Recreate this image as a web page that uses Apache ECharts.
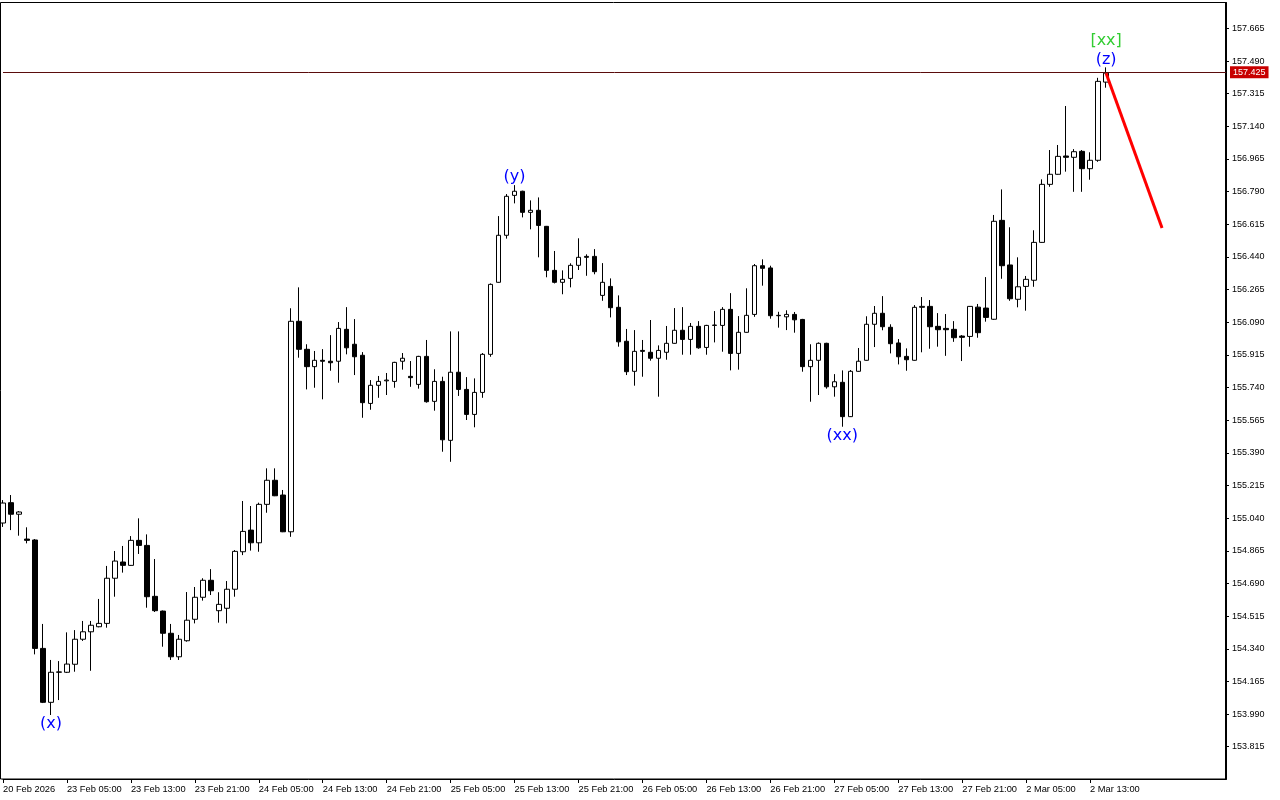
<!DOCTYPE html>
<html>
<head>
<meta charset="utf-8">
<script src="https://cdn.jsdelivr.net/npm/echarts@6/dist/echarts.min.js"></script>
<style>
html,body{margin:0;padding:0;background:#fff;}
#chart{width:1280px;height:800px;}
</style>
</head>
<body>
<div id="chart"></div>
<script>
// ---- Data (H1 candles, 20 Feb 2026 21:00 .. 2 Mar 2026 15:00) ----
const opens = [155.014,155.123,155.061,154.928,154.923,154.342,154.053,154.214,154.214,154.257,
154.391,154.431,154.458,154.476,154.718,154.805,154.787,154.921,154.894,154.621,
154.542,154.423,154.297,154.383,154.498,154.616,154.707,154.544,154.557,154.659,
154.860,154.976,154.908,155.114,155.243,155.164,154.967,156.095,155.945,155.852,
155.886,155.881,155.881,156.052,155.972,155.913,155.655,155.752,155.776,155.773,
155.881,155.800,155.757,155.907,155.666,155.773,155.457,155.822,155.730,155.596,
155.714,155.918,156.304,156.556,156.770,156.792,156.679,156.690,156.604,156.368,
156.304,156.325,156.395,156.443,156.443,156.234,156.282,156.170,155.988,155.827,
155.939,155.929,155.897,155.929,155.977,156.047,155.998,156.068,155.955,156.073,
156.073,156.159,155.923,156.036,156.132,156.393,156.381,156.125,156.119,156.132,
156.105,155.852,155.886,155.977,155.744,155.768,155.584,155.827,155.886,156.079,
156.138,156.063,155.979,155.907,155.886,156.170,156.175,156.068,156.057,156.052,
156.016,156.014,156.171,156.166,156.106,156.636,156.397,156.213,156.282,156.315,
156.518,156.829,156.883,156.981,156.974,157.006,156.913,156.958,157.377];
const highs = [155.137,155.164,155.078,154.991,154.928,154.473,154.280,154.274,154.428,154.440,
154.489,154.489,154.607,154.784,154.864,154.891,154.944,155.039,154.953,154.821,
154.545,154.473,154.414,154.644,154.671,154.718,154.767,154.643,154.703,154.869,
155.132,155.105,155.123,155.307,155.307,155.191,156.165,156.277,155.972,155.936,
155.946,156.021,156.091,156.171,156.107,155.930,155.780,155.802,155.818,155.878,
155.925,155.882,155.910,155.995,155.838,155.798,156.041,156.041,155.796,155.789,
155.925,156.298,156.659,156.777,156.825,156.795,156.743,156.759,156.606,156.472,
156.368,156.406,156.540,156.454,156.482,156.407,156.325,156.234,156.054,156.048,
155.995,156.102,155.966,156.070,156.166,156.171,156.086,156.096,156.076,156.150,
156.171,156.246,156.123,156.272,156.402,156.427,156.393,156.146,156.154,156.145,
156.108,155.972,155.982,155.980,155.812,155.832,155.834,155.952,156.122,156.177,
156.230,156.079,156.000,155.950,156.182,156.225,156.209,156.139,156.134,156.096,
156.021,156.177,156.188,156.332,156.665,156.802,156.599,156.438,156.338,156.583,
156.856,157.013,157.040,157.249,157.018,157.013,157.001,157.400,157.456];
const lows = [154.993,154.976,154.946,154.905,154.310,154.049,153.985,154.065,154.210,154.217,
154.382,154.222,154.455,154.453,154.619,154.748,154.785,154.848,154.560,154.537,
154.351,154.280,154.280,154.378,154.476,154.598,154.628,154.480,154.476,154.619,
154.842,154.866,154.860,155.069,155.158,154.965,154.940,155.900,155.730,155.739,
155.677,155.830,155.766,155.918,155.807,155.578,155.621,155.685,155.700,155.739,
155.836,155.744,155.734,155.659,155.616,155.396,155.342,155.695,155.566,155.527,
155.685,155.905,156.302,156.538,156.727,156.652,156.588,156.438,156.331,156.298,
156.240,156.277,156.370,156.339,156.347,156.205,156.116,155.959,155.807,155.750,
155.798,155.884,155.691,155.889,155.975,155.916,155.916,155.948,155.916,155.982,
155.932,155.832,155.836,156.034,156.119,156.286,156.109,156.061,156.048,156.034,
155.825,155.664,155.700,155.734,155.691,155.530,155.582,155.825,155.884,155.957,
156.047,155.923,155.864,155.830,155.884,155.929,155.948,155.959,155.910,155.985,
155.882,155.959,156.007,156.093,156.103,156.323,156.205,156.170,156.152,156.280,
156.516,156.816,156.881,156.897,156.789,156.789,156.854,156.950,157.347];
const closes = [155.121,155.061,155.073,154.921,154.342,154.053,154.214,154.216,154.258,154.391,
154.431,154.466,154.476,154.718,154.810,154.787,154.921,154.894,154.619,154.544,
154.423,154.297,154.391,154.493,154.616,154.707,154.651,154.578,154.659,154.862,
154.969,154.908,155.114,155.243,155.160,154.967,156.095,155.945,155.852,155.886,
155.881,155.873,156.057,155.953,155.905,155.659,155.752,155.773,155.780,155.875,
155.897,155.793,155.907,155.664,155.773,155.460,155.822,155.730,155.596,155.714,
155.918,156.293,156.556,156.765,156.792,156.679,156.690,156.609,156.368,156.304,
156.320,156.395,156.438,156.438,156.361,156.304,156.168,155.985,155.825,155.934,
155.934,155.897,155.939,155.977,156.047,155.998,156.068,155.953,156.073,156.075,
156.159,155.923,156.036,156.127,156.393,156.379,156.125,156.127,156.132,156.103,
155.852,155.886,155.977,155.744,155.771,155.584,155.827,155.881,156.079,156.138,
156.066,155.975,155.905,155.889,156.170,156.175,156.066,156.050,156.050,156.007,
156.009,156.175,156.034,156.116,156.631,156.393,156.216,156.280,156.320,156.518,
156.829,156.883,156.979,156.974,157.004,156.913,156.958,157.381,157.425];

// sessions (day label, first hour, last hour) for the hourly category axis incl. empty future slots
const sessions = [["20 Feb",21,23],["23 Feb",0,23],["24 Feb",0,23],["25 Feb",0,23],["26 Feb",0,23],["27 Feb",0,23],["2 Mar",0,23],["3 Mar",0,6]];
const tickLabels = ["20 Feb 2026","23 Feb 05:00","23 Feb 13:00","23 Feb 21:00","24 Feb 05:00","24 Feb 13:00","24 Feb 21:00","25 Feb 05:00","25 Feb 13:00","25 Feb 21:00","26 Feb 05:00","26 Feb 13:00","26 Feb 21:00","27 Feb 05:00","27 Feb 13:00","27 Feb 21:00","2 Mar 05:00","2 Mar 13:00"];
const priceTicks = [153.815,153.990,154.165,154.340,154.515,154.690,154.865,155.040,155.215,155.390,155.565,155.740,155.915,156.090,156.265,156.440,156.615,156.790,156.965,157.140,157.315,157.490,157.665];
const lastPrice = 157.425;

// wave annotations
const waveNames = ["(x)","(y)","(xx)","(z)","[xx]"];
const waveIdx = [6,64,105,138,138];
const wavePrice = [153.936,156.868,155.482,157.498,157.600];
const waveColors = ["#0000ff","#0000ff","#0000ff","#0000ff","#32cd32"];

// forecast line
const forecastIdx = [138,145];
const forecastPrice = [157.425,156.595];

// ---- build ----
const categories = [];
sessions.forEach(s => { for (let h = s[1]; h <= s[2]; h++) categories.push(s[0] + " " + String(h).padStart(2,"0") + ":00"); });
const candleData = opens.map((o,i) => [o, closes[i], lows[i], highs[i]]);
const waveData = waveNames.map((n,i) => ({ value:[waveIdx[i], wavePrice[i]], name:n, label:{ color: waveColors[i] } }));
const forecastData = forecastIdx.map((x,i) => [x, forecastPrice[i]]);
const lastTickIdx = (tickLabels.length - 1) * 8;

const chart = echarts.init(document.getElementById('chart'), null, {renderer:'canvas'});
const FONT = 'Liberation Sans';
chart.setOption({
  animation:false,
  backgroundColor:'#ffffff',
  grid:{left:2, right:54, top:3, bottom:21, containLabel:false},
  graphic:[{type:'rect', shape:{x:0.5, y:2.5, width:1226, height:776.5}, style:{fill:null, stroke:'#000', lineWidth:1}, silent:true, z:-1}],
  xAxis:{
    type:'category', data:categories, boundaryGap:false,
    axisLine:{show:true, lineStyle:{color:'#000', width:1}},
    axisTick:{show:true, length:4, lineStyle:{color:'#000'}, interval:(i)=> i%8===0 && i<=lastTickIdx},
    axisLabel:{show:true, interval:(i)=> i%8===0 && i<=lastTickIdx, align:'left', margin:6,
      fontFamily:FONT, fontSize:9.3, color:'#000',
      formatter:(v,i)=> tickLabels[i/8] || ''},
    splitLine:{show:false}
  },
  yAxis:{
    type:'value', position:'right', min:153.642, max:157.801, scale:true,
    axisLine:{show:true, lineStyle:{color:'#000', width:2}},
    axisTick:{show:true, length:3, lineStyle:{color:'#000'}, customValues:priceTicks},
    axisLabel:{show:true, margin:6, fontFamily:FONT, fontSize:9, color:'#000', customValues:priceTicks,
      formatter:(v)=> Number(v).toFixed(3)},
    splitLine:{show:false}
  },
  series:[
    {
      type:'candlestick', data:candleData, barWidth:5,
      itemStyle:{color:'#ffffff', color0:'#000000', borderColor:'#000000', borderColor0:'#000000', borderWidth:1},
      markLine:{
        silent:true, symbol:['none','none'],
        lineStyle:{color:'#5a0c0c', width:1, type:'solid', opacity:1},
        label:{show:true, position:'end', distance:4, formatter:lastPrice.toFixed(3),
          backgroundColor:'#c80000', color:'#ffffff', fontFamily:FONT, fontSize:9, padding:[1,3,1,3], lineHeight:10},
        data:[{yAxis:lastPrice}]
      },
      z:2
    },
    {
      type:'line', data:forecastData, showSymbol:false, symbol:'none',
      lineStyle:{color:'#ff0000', width:3}, z:5
    },
    {
      type:'scatter', data:waveData, symbolSize:0, itemStyle:{opacity:1},
      label:{show:true, position:'inside', formatter:(p)=>p.name, fontFamily:'DejaVu Sans', fontSize:16, opacity:1},
      z:6
    }
  ]
});
</script>
</body>
</html>
